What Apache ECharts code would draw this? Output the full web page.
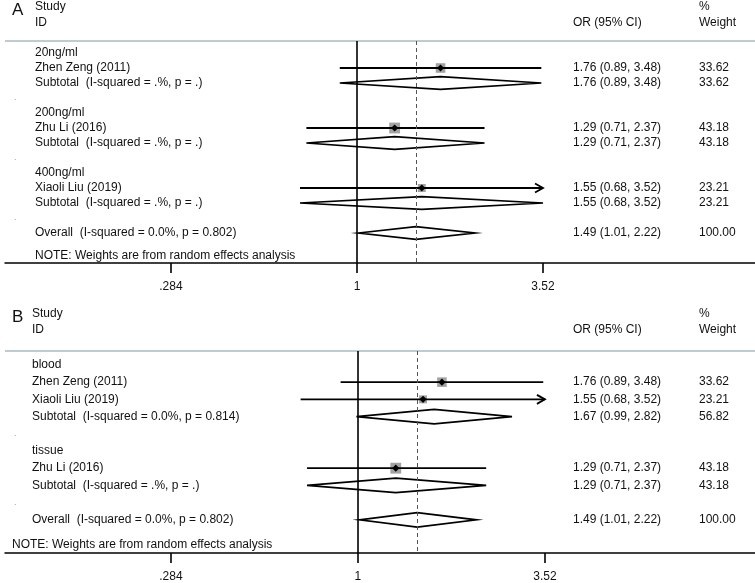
<!DOCTYPE html>
<html><head><meta charset="utf-8">
<script src="https://cdn.jsdelivr.net/npm/echarts@6/dist/echarts.min.js"></script>
<style>html,body{margin:0;padding:0;background:#fff}#c{width:755px;height:583px}</style>
</head><body><div id="c"></div>
<script>
// ---- Data ----
const tickValues = [0.284, 1, 3.52];
const tickLabels = ['.284', '1', '3.52'];

const labelsA = ['20ng/ml', 'Zhen Zeng (2011)', 'Subtotal  (I-squared = .%, p = .)', '.',
  '200ng/ml', 'Zhu Li (2016)', 'Subtotal  (I-squared = .%, p = .)', '.',
  '400ng/ml', 'Xiaoli Liu (2019)', 'Subtotal  (I-squared = .%, p = .)', '.',
  'Overall  (I-squared = 0.0%, p = 0.802)'];
const kindsA = ['group', 'study', 'pooled', 'sep', 'group', 'study', 'pooled', 'sep', 'group', 'study', 'pooled', 'sep', 'pooled'];
const orA = [null, 1.76, 1.76, null, null, 1.29, 1.29, null, null, 1.55, 1.55, null, 1.49];
const loA = [null, 0.89, 0.89, null, null, 0.71, 0.71, null, null, 0.68, 0.68, null, 1.01];
const hiA = [null, 3.48, 3.48, null, null, 2.37, 2.37, null, null, 3.52, 3.52, null, 2.22];
const wA  = [null, 33.62, 33.62, null, null, 43.18, 43.18, null, null, 23.21, 23.21, null, 100.00];

const labelsB = ['blood', 'Zhen Zeng (2011)', 'Xiaoli Liu (2019)', 'Subtotal  (I-squared = 0.0%, p = 0.814)', '.',
  'tissue', 'Zhu Li (2016)', 'Subtotal  (I-squared = .%, p = .)', '.',
  'Overall  (I-squared = 0.0%, p = 0.802)'];
const kindsB = ['group', 'study', 'study', 'pooled', 'sep', 'group', 'study', 'pooled', 'sep', 'pooled'];
const orB = [null, 1.76, 1.55, 1.67, null, null, 1.29, 1.29, null, 1.49];
const loB = [null, 0.89, 0.68, 0.99, null, null, 0.71, 0.71, null, 1.01];
const hiB = [null, 3.48, 3.52, 2.82, null, null, 2.37, 2.37, null, 2.22];
const wB  = [null, 33.62, 23.21, 56.82, null, null, 43.18, 43.18, null, 100.00];

const headStudy = ['Study', 'ID'];
const headOR = 'OR (95% CI)';
const headW = ['%', 'Weight'];
const note = 'NOTE: Weights are from random effects analysis';

// ---- Layout / style ----
const FONT = '"Liberation Sans", Arial, Helvetica, sans-serif';
const OR_X = 573, W_X = 699, SEP_X = 14;
const maxTick = tickValues[tickValues.length - 1];

const chart = echarts.init(document.getElementById('c'), null, {renderer: 'canvas'});

function fmtOR(o, l, h) { return o.toFixed(2) + ' (' + l.toFixed(2) + ', ' + h.toFixed(2) + ')'; }

function makeRender(P) {
  return function (params, api) {
    const i = params.dataIndex;
    const y = api.coord([0, i])[1];
    const rowH = Math.abs(api.coord([0, 1])[1] - api.coord([0, 0])[1]);
    const kids = [];
    const txt = (x, s, st) => ({type: 'text', x: x, y: y, style: Object.assign({text: s, fill: '#111', font: '12px ' + FONT, verticalAlign: 'middle', align: 'left'}, st || {})});
    const k = P.kinds[i];
    if (k === 'sep') kids.push(txt(SEP_X, '.', {fill: '#999', font: '9px ' + FONT}));
    else kids.push(txt(P.labelX, P.labels[i]));
    if (P.or[i] != null) {
      kids.push(txt(OR_X, fmtOR(P.or[i], P.lo[i], P.hi[i])));
      kids.push(txt(W_X, P.w[i].toFixed(2)));
      const xl = api.coord([Math.log(P.lo[i]), i])[0];
      const xh = api.coord([Math.log(P.hi[i]), i])[0];
      const xc = api.coord([Math.log(P.or[i]), i])[0];
      if (k === 'study') {
        const s = 1.65 * Math.sqrt(P.w[i]);
        kids.push({type: 'rect', shape: {x: xc - s / 2, y: y - s / 2, width: s, height: s}, style: {fill: '#a3a3a3'}});
        kids.push({type: 'line', shape: {x1: xl, y1: y, x2: xh, y2: y}, style: {stroke: '#000', lineWidth: 1.8}});
        const d = 3.6;
        kids.push({type: 'polygon', shape: {points: [[xc - d, y], [xc, y - d], [xc + d, y], [xc, y + d]]}, style: {fill: '#000'}});
        if (P.hi[i] >= maxTick) {
          kids.push({type: 'polyline', shape: {points: [[xh - 8, y - 4.5], [xh, y], [xh - 8, y + 4.5]]}, style: {stroke: '#000', lineWidth: 1.8, fill: null}});
        }
      } else {
        const hh = rowH * 0.42;
        kids.push({type: 'polygon', shape: {points: [[xl, y], [xc, y - hh], [xh, y], [xc, y + hh]]}, style: {fill: '#fff', stroke: '#000', lineWidth: 1.7}});
      }
    }
    return {type: 'group', children: kids};
  };
}

function xAxisFor(gi, min, max) {
  const tv = tickValues.map(Math.log);
  return {
    type: 'value', gridIndex: gi, min: min, max: max,
    axisLine: {show: true, onZero: false, lineStyle: {color: '#000', width: 1.5}},
    axisTick: {show: true, length: 10, customValues: tv, lineStyle: {color: '#000', width: 1.6}},
    axisLabel: {customValues: tv, margin: 18, fontSize: 12, color: '#111', fontFamily: FONT,
      formatter: v => { const j = tv.findIndex(t => Math.abs(t - v) < 1e-6); return j >= 0 ? tickLabels[j] : ''; }},
    splitLine: {show: false}
  };
}

function seriesFor(gi, P) {
  const overall = P.or[P.or.length - 1];
  return {
    type: 'custom', xAxisIndex: gi, yAxisIndex: gi, clip: false,
    data: P.labels.map((_, i) => [P.or[i] != null ? Math.log(P.or[i]) : 0, i]),
    encode: {x: 0, y: 1},
    renderItem: makeRender(P),
    markLine: {
      silent: true, symbol: ['none', 'none'], label: {show: false}, animation: false,
      data: [
        {xAxis: 0, lineStyle: {color: '#000', width: 1.6, type: 'solid'}},
        {xAxis: Math.log(overall), lineStyle: {color: '#555', width: 1, type: [4, 3]}}
      ]
    }
  };
}

const PA = {labels: labelsA, kinds: kindsA, or: orA, lo: loA, hi: hiA, w: wA, labelX: 35};
const PB = {labels: labelsB, kinds: kindsB, or: orB, lo: loB, hi: hiB, w: wB, labelX: 32};

function T(x, y, s, size) {
  return {type: 'text', x: x, y: y, style: {text: s, fill: '#111', font: (size || 12) + 'px ' + FONT, verticalAlign: 'middle', align: 'left'}};
}
function headers(letter, top, lineY, studyX, noteX, noteY) {
  return [
    T(12, top + 3, letter, 17),
    T(studyX, top, headStudy[0]), T(studyX, top + 16, headStudy[1]),
    T(OR_X, top + 16, headOR),
    T(W_X, top, headW[0]), T(W_X, top + 16, headW[1]),
    {type: 'line', shape: {x1: 5, y1: lineY, x2: 755, y2: lineY}, style: {stroke: '#a9bac3', lineWidth: 1.5}},
    T(noteX, noteY, note)
  ];
}

chart.setOption({
  animation: false,
  grid: [
    {left: 5, right: 0, top: 41, height: 222},
    {left: 5, right: 0, top: 351, height: 202}
  ],
  xAxis: [xAxisFor(0, -2.3816, 2.6928), xAxisFor(1, -2.375, 2.672)],
  yAxis: [
    {type: 'value', gridIndex: 0, inverse: true, min: -0.8, max: 14, show: false},
    {type: 'value', gridIndex: 1, inverse: true, min: -0.81, max: 10.93, show: false}
  ],
  series: [seriesFor(0, PA), seriesFor(1, PB)],
  graphic: [].concat(headers('A', 7, 41, 35, 35, 256), headers('B', 314, 351, 32, 12, 545))
});
</script>
</body></html>
